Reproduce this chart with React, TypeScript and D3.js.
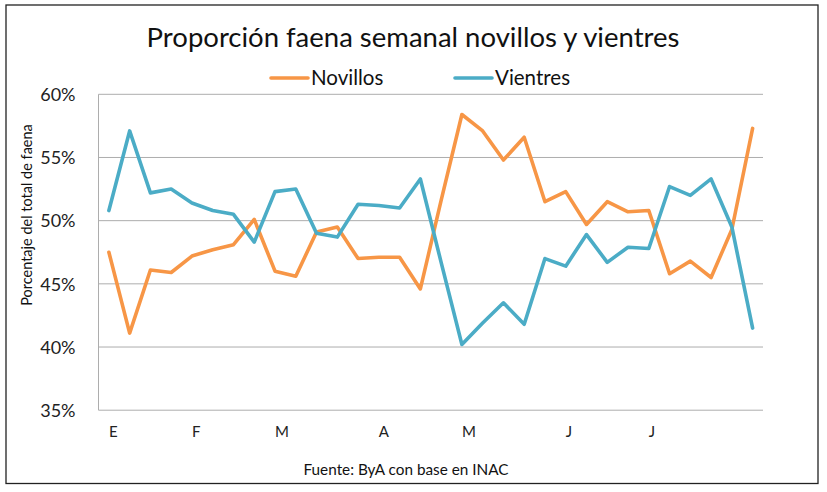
import * as React from 'react';
import * as d3 from 'd3';

// 32 semanas, letra del mes donde empieza cada uno
const weekLabels: string[] = [
  'E', '', '', '', 'F', '', '', '', 'M', '', '', '', '', 'A', '', '', '',
  'M', '', '', '', '', 'J', '', '', '', 'J', '', '', '', '', '',
];

const novillos: number[] = [
  47.5, 41.1, 46.1, 45.9, 47.2, 47.7, 48.1, 50.1, 46.0, 45.6, 49.1, 49.5,
  47.0, 47.1, 47.1, 44.6, 51.6, 58.4, 57.1, 54.8, 56.6, 51.5, 52.3, 49.7,
  51.5, 50.7, 50.8, 45.8, 46.8, 45.5, 49.3, 57.3,
];

const vientres: number[] = [
  50.8, 57.1, 52.2, 52.5, 51.4, 50.8, 50.5, 48.3, 52.3, 52.5, 49.0, 48.7,
  51.3, 51.2, 51.0, 53.3, 46.7, 40.2, 41.9, 43.5, 41.8, 47.0, 46.4, 48.9,
  46.7, 47.9, 47.8, 52.7, 52.0, 53.3, 49.5, 41.5,
];

const yTicks: number[] = [35, 40, 45, 50, 55, 60];

const seriesNames = ['Novillos', 'Vientres'];
const colors = ['#F79646', '#4BACC6'];

const App: React.FC = () => {
  const ref = React.useRef<SVGSVGElement>(null);

  React.useEffect(() => {
    document.body.style.margin = '0';
    const width = 827;
    const height = 492;
    const font = 'Lato, "Open Sans", sans-serif';

    const svg = d3.select(ref.current);
    svg.selectAll('*').remove();
    svg.attr('width', width).attr('height', height);

    svg.append('rect')
      .attr('width', width).attr('height', height).attr('fill', '#fff');
    svg.append('rect')
      .attr('x', 6).attr('y', 5)
      .attr('width', 812).attr('height', 478.5)
      .attr('fill', 'none').attr('stroke', '#222').attr('stroke-width', 1.3);

    const left = 98.5, right = 763, top = 94.3, bottom = 410.2;

    const x = d3.scaleBand<number>()
      .domain(d3.range(weekLabels.length))
      .range([left, right])
      .padding(0);
    const cx = (i: number) => (x(i) as number) + x.bandwidth() / 2;

    const y = d3.scaleLinear().domain([35, 60]).range([bottom, top]);

    // grid
    svg.append('g')
      .selectAll('line')
      .data(yTicks)
      .join('line')
        .attr('x1', left).attr('x2', right)
        .attr('y1', d => y(d)).attr('y2', d => y(d))
        .attr('stroke', '#ADADAD').attr('stroke-width', 1);

    svg.append('line')
      .attr('x1', left).attr('x2', left)
      .attr('y1', top).attr('y2', bottom)
      .attr('stroke', '#ADADAD').attr('stroke-width', 1);

    // eje y
    const yAxis = svg.append('g')
      .attr('transform', `translate(${left - 20},0)`)
      .call(d3.axisLeft(y).tickValues(yTicks).tickSize(0).tickFormat(d => `${d}%`));
    yAxis.select('.domain').remove();
    yAxis.selectAll('text')
      .attr('font-family', font).attr('font-size', 18).attr('fill', '#222')
      .attr('dy', '0.35em');

    // eje x
    svg.append('g')
      .selectAll('text')
      .data(weekLabels.map((l, i) => ({ l, i })).filter(d => d.l !== ''))
      .join('text')
        .attr('x', d => cx(d.i))
        .attr('y', 437)
        .attr('font-family', font).attr('font-size', 15).attr('fill', '#222')
        .text(d => d.l);

    // lineas
    const line = d3.line<number>()
      .x((_, i) => cx(i))
      .y(d => y(d));

    [novillos, vientres].forEach((s, k) => {
      svg.append('path')
        .datum(s)
        .attr('d', line)
        .attr('fill', 'none')
        .attr('stroke', colors[k])
        .attr('stroke-width', 3.6)
        .attr('stroke-linejoin', 'round')
        .attr('stroke-linecap', 'round');
    });

    // titulo
    svg.append('text')
      .attr('x', 413).attr('y', 47)
      .attr('text-anchor', 'middle')
      .attr('font-family', font).attr('font-size', 27.5).attr('fill', '#111')
      .text('Proporción faena semanal novillos y vientres');

    // leyenda
    const legendX = [271, 455];
    seriesNames.forEach((n, k) => {
      const g = svg.append('g').attr('transform', `translate(${legendX[k]},78)`);
      g.append('line')
        .attr('x1', 0).attr('x2', 37).attr('y1', 0).attr('y2', 0)
        .attr('stroke', colors[k]).attr('stroke-width', 3.6)
        .attr('stroke-linecap', 'round');
      g.append('text')
        .attr('x', 40).attr('y', 0).attr('dy', '0.35em')
        .attr('font-family', font).attr('font-size', 20.5).attr('fill', '#111')
        .text(n);
    });

    // titulo eje y
    svg.append('text')
      .attr('transform', 'translate(32,215) rotate(-90)')
      .attr('text-anchor', 'middle')
      .attr('font-family', font).attr('font-size', 14.5).attr('fill', '#111')
      .text('Porcentaje del total de faena');

    // fuente
    svg.append('text')
      .attr('x', 406).attr('y', 475)
      .attr('text-anchor', 'middle')
      .attr('font-family', font).attr('font-size', 15.3).attr('fill', '#111')
      .text('Fuente: ByA con base en INAC');
  }, []);

  return <svg ref={ref} style={{ display: 'block' }} />;
};

export default App;
